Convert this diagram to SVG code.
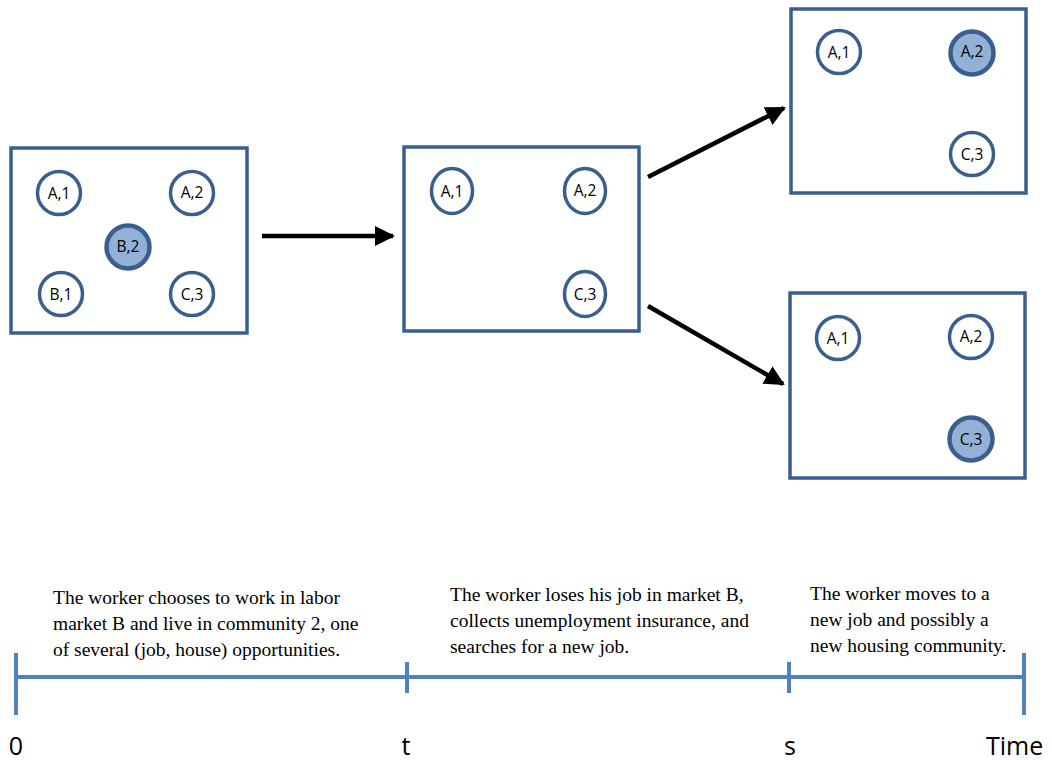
<svg xmlns="http://www.w3.org/2000/svg" width="1052" height="760" viewBox="0 0 1052 760">
<defs>
<style>
.box{fill:#ffffff;stroke:#3A5F8F;stroke-width:3.5}
.c{fill:#ffffff;stroke:#3A5F8F;stroke-width:3.5}
.cf{fill:#93B0D6;stroke:#3A5F8F;stroke-width:4.5}
.cl{font-family:"Open Sans","Liberation Sans",sans-serif;font-size:15.5px;fill:#000;text-anchor:middle;dominant-baseline:central}
.arr{stroke:#000;stroke-width:4.5;fill:none;marker-end:url(#ah)}
.tl{stroke:#4F81BD;stroke-width:4;fill:none}
.para{font-family:"Liberation Serif","Times New Roman",serif;font-size:19.5px;fill:#000}
.tlab{font-family:"Open Sans","Liberation Sans",sans-serif;font-size:25px;fill:#000}
</style>
<marker id="ah" viewBox="0 0 10 10" refX="9" refY="5" markerUnits="userSpaceOnUse" markerWidth="20" markerHeight="24" orient="auto">
<path d="M0,0 L10,5 L0,10 z" fill="#000"/>
</marker>
</defs>
<g id="state0">
<rect class="box" x="11" y="148" width="236" height="185"/>
<circle class="c" cx="59" cy="193" r="21.5"/><text class="cl" x="59" y="193">A,1</text>
<circle class="c" cx="192" cy="193" r="21.5"/><text class="cl" x="192" y="192">A,2</text>
<circle class="cf" cx="128" cy="247" r="21.5"/><text class="cl" x="128" y="246">B,2</text>
<circle class="c" cx="61" cy="294" r="21.5"/><text class="cl" x="61" y="294">B,1</text>
<circle class="c" cx="192" cy="294" r="21.5"/><text class="cl" x="192" y="294">C,3</text>
</g>
<g id="state1">
<rect class="box" x="404" y="147" width="235" height="184"/>
<ellipse class="c" cx="452" cy="191" rx="20.5" ry="22.5"/><text class="cl" x="452" y="191">A,1</text>
<ellipse class="c" cx="585" cy="191" rx="20.5" ry="22.5"/><text class="cl" x="585" y="190">A,2</text>
<ellipse class="c" cx="585" cy="294" rx="20.5" ry="22.5"/><text class="cl" x="585" y="294">C,3</text>
</g>
<g id="state2a">
<rect class="box" x="791" y="9" width="235" height="184"/>
<circle class="c" cx="839" cy="52" r="21.5"/><text class="cl" x="839" y="52">A,1</text>
<circle class="cf" cx="972" cy="53" r="21.5"/><text class="cl" x="972" y="51">A,2</text>
<circle class="c" cx="972" cy="154" r="21.5"/><text class="cl" x="972" y="154">C,3</text>
</g>
<g id="state2b">
<rect class="box" x="790" y="293" width="235" height="185"/>
<circle class="c" cx="838" cy="338" r="21.5"/><text class="cl" x="838" y="338">A,1</text>
<circle class="c" cx="971" cy="337" r="21.5"/><text class="cl" x="971" y="336">A,2</text>
<circle class="cf" cx="971" cy="439" r="21.5"/><text class="cl" x="971" y="439">C,3</text>
</g>
<g id="connectors">
<line class="arr" x1="262" y1="236" x2="393" y2="236"/>
<line class="arr" x1="648" y1="177" x2="784" y2="108"/>
<line class="arr" x1="648" y1="306" x2="783" y2="384"/>
</g>
<g id="timeline">
<line class="tl" x1="16" y1="677" x2="1024" y2="677"/>
<line class="tl" x1="16" y1="653" x2="16" y2="715"/>
<line class="tl" x1="407" y1="662" x2="407" y2="693"/>
<line class="tl" x1="789" y1="662" x2="789" y2="693"/>
<line class="tl" x1="1024" y1="653" x2="1024" y2="715"/>
<text class="tlab" x="16" y="755" text-anchor="middle">0</text>
<text class="tlab" x="406" y="755" text-anchor="middle">t</text>
<text class="tlab" x="790" y="755" text-anchor="middle">s</text>
<text class="tlab" x="986" y="755">Time</text>
</g>
<g id="notes">
<text class="para" x="53" y="604">The worker chooses to work in labor</text>
<text class="para" x="53" y="630">market B and live in community 2, one</text>
<text class="para" x="53" y="656">of several (job, house) opportunities.</text>
<text class="para" x="450" y="601">The worker loses his job in market B,</text>
<text class="para" x="450" y="627">collects unemployment insurance, and</text>
<text class="para" x="450" y="653">searches for a new job.</text>
<text class="para" x="810" y="600">The worker moves to a</text>
<text class="para" x="810" y="626">new job and possibly a</text>
<text class="para" x="810" y="652">new housing community.</text>
</g>
</svg>
